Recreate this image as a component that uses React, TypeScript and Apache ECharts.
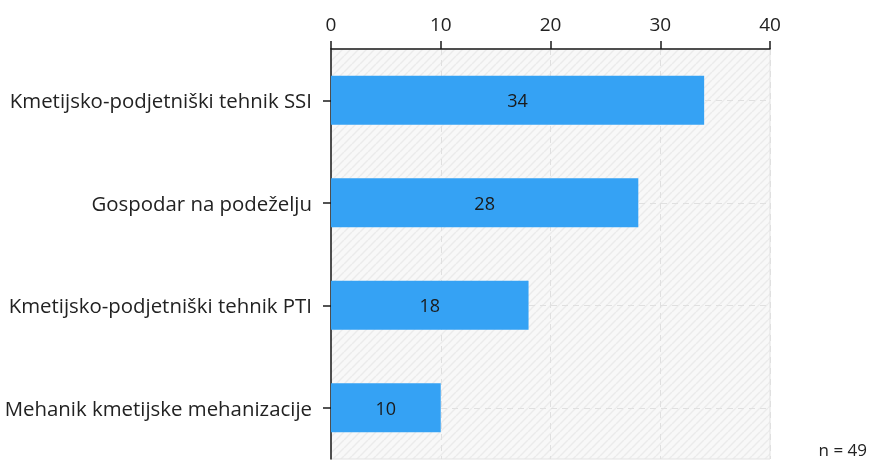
import React, { useEffect, useRef } from "react";
import * as echarts from "echarts";

const categories = [
  "Kmetijsko-podjetniški tehnik SSI",
  "Gospodar na podeželju",
  "Kmetijsko-podjetniški tehnik PTI",
  "Mehanik kmetijske mehanizacije",
];
const values = [34, 28, 18, 10];
const xTicks = { min: 0, max: 40, interval: 10 };
const noteText = "n = 49";

function makePattern(): HTMLCanvasElement {
  const c = document.createElement("canvas");
  const s = 8;
  c.width = s;
  c.height = s;
  const ctx = c.getContext("2d")!;
  ctx.fillStyle = "#f8f8f8";
  ctx.fillRect(0, 0, s, s);
  ctx.strokeStyle = "#ebebeb";
  ctx.lineWidth = 1.5;
  for (let k = -1; k <= 1; k++) {
    ctx.beginPath();
    ctx.moveTo(k * s, s);
    ctx.lineTo(k * s + s, 0);
    ctx.stroke();
  }
  return c;
}

export default function App() {
  const ref = useRef<HTMLDivElement>(null);
  useEffect(() => {
    if (!ref.current) return;
    const chart = echarts.init(ref.current, undefined, { renderer: "svg" });
    const font = "'Open Sans', sans-serif";
    chart.setOption({
      animation: false,
      textStyle: { fontFamily: font },
      grid: {
        left: 331,
        right: 101,
        top: 49,
        bottom: 1,
        show: true,
        backgroundColor: { image: makePattern(), repeat: "repeat" },
        borderColor: "#e2e2e2",
        borderWidth: 1,
      },
      xAxis: {
        type: "value",
        position: "top",
        min: xTicks.min,
        max: xTicks.max,
        interval: xTicks.interval,
        axisLine: { show: true, lineStyle: { color: "#1a1a1a", width: 1.5 } },
        axisTick: { show: true, length: 8, lineStyle: { color: "#1a1a1a", width: 1.5 } },
        axisLabel: { color: "#222", fontSize: 19, fontFamily: font, margin: 16 },
        splitLine: { show: true, lineStyle: { color: "#e0e0e0", type: [6, 5], width: 1 } },
      },
      yAxis: {
        type: "category",
        inverse: true,
        data: categories,
        axisLine: { show: true, lineStyle: { color: "#1a1a1a", width: 1.5 } },
        axisTick: { show: true, alignWithLabel: true, length: 8, lineStyle: { color: "#1a1a1a", width: 1.5 } },
        axisLabel: { color: "#222", fontSize: 20.4, fontFamily: font, margin: 19 },
        splitLine: { show: false },
      },
      series: [
        {
          type: "line",
          data: [],
          z: 1,
          silent: true,
          markLine: {
            z: 1,
            silent: true,
            symbol: "none",
            label: { show: false },
            lineStyle: { color: "#e0e0e0", type: [6, 5], width: 1 },
            data: categories.map((c) => ({ yAxis: c })),
          },
        },
        {
          type: "bar",
          z: 3,
          data: values,
          barWidth: "48%",
          itemStyle: { color: "#35a2f4" },
          label: {
            show: true,
            position: "inside",
            color: "#1a1a1a",
            fontSize: 18,
            fontFamily: font,
          },
        },
      ],
      graphic: [
        {
          type: "text",
          x: 867,
          y: 449,
          style: {
            text: noteText,
            fill: "#222",
            fontSize: 17,
            fontFamily: font,
            align: "right",
            verticalAlign: "middle",
          },
        },
      ],
    });
    return () => chart.dispose();
  }, []);
  return (
    <div
      ref={ref}
      style={{ position: "fixed", left: 0, top: 0, width: 871, height: 460, overflow: "hidden" }}
    />
  );
}
